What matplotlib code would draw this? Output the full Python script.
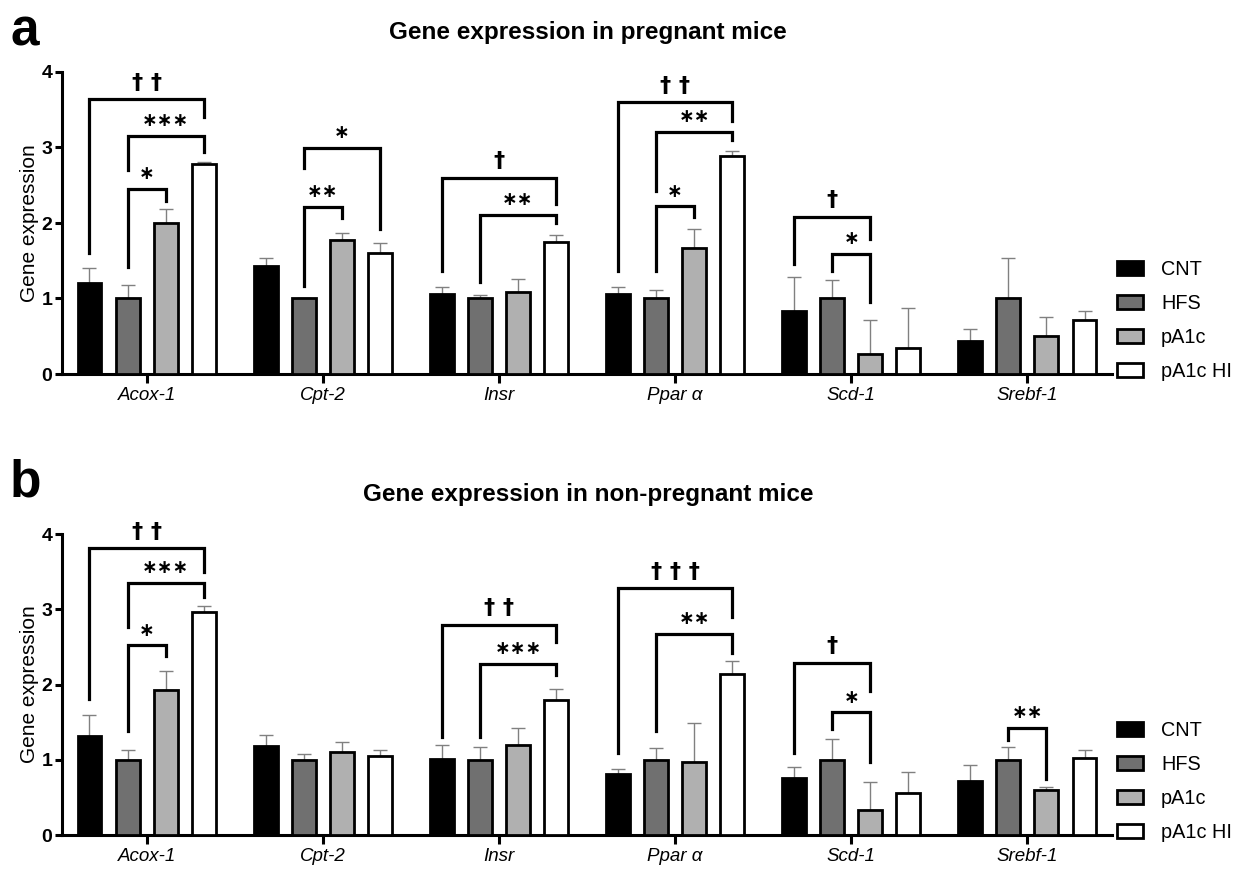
import numpy as np
import matplotlib
matplotlib.use("Agg")
from matplotlib import pyplot as plt
from matplotlib.patches import Patch

plt.rcParams['font.family'] = ['Liberation Sans', 'DejaVu Sans']

genes = ['Acox-1', 'Cpt-2', 'Insr', 'Ppar α', 'Scd-1', 'Srebf-1']
groups = ['CNT', 'HFS', 'pA1c', 'pA1c HI']
colors = ['#000000', '#707070', '#b0b0b0', '#ffffff']

# panel a: pregnant mice (mean, SEM)
preg_cnt = [1.20, 1.43, 1.06, 1.06, 0.84, 0.44]
preg_hfs = [1.00, 1.00, 1.00, 1.00, 1.00, 1.00]
preg_pa1c = [2.00, 1.77, 1.08, 1.67, 0.26, 0.50]
preg_hi = [2.78, 1.60, 1.75, 2.89, 0.35, 0.71]
preg_cnt_err = [0.21, 0.11, 0.09, 0.09, 0.44, 0.16]
preg_hfs_err = [0.18, 0.01, 0.04, 0.11, 0.25, 0.53]
preg_pa1c_err = [0.19, 0.10, 0.18, 0.25, 0.46, 0.25]
preg_hi_err = [0.03, 0.13, 0.09, 0.06, 0.53, 0.12]

# panel b: non-pregnant mice
nonp_cnt = [1.31, 1.18, 1.01, 0.81, 0.76, 0.72]
nonp_hfs = [1.00, 1.00, 1.00, 1.00, 1.00, 1.00]
nonp_pa1c = [1.93, 1.10, 1.19, 0.97, 0.33, 0.60]
nonp_hi = [2.96, 1.05, 1.80, 2.14, 0.56, 1.02]
nonp_cnt_err = [0.28, 0.15, 0.18, 0.07, 0.14, 0.21]
nonp_hfs_err = [0.13, 0.08, 0.17, 0.16, 0.28, 0.17]
nonp_pa1c_err = [0.25, 0.14, 0.23, 0.52, 0.37, 0.04]
nonp_hi_err = [0.08, 0.08, 0.14, 0.17, 0.28, 0.11]

# comparisons: gene, bar from, bar to, left leg end, right leg end, bracket height, label
preg_brackets = [
    (0, 0, 3, 1.60, 3.40, 3.64, '† †'),
    (0, 1, 3, 2.70, 2.94, 3.15, '∗∗∗'),
    (0, 1, 2, 1.42, 2.29, 2.45, '∗'),
    (1, 1, 3, 2.73, 1.92, 2.99, '∗'),
    (1, 1, 2, 1.17, 2.06, 2.21, '∗∗'),
    (2, 0, 3, 1.36, 2.25, 2.60, '†'),
    (2, 1, 3, 1.22, 2.00, 2.11, '∗∗'),
    (3, 0, 3, 1.36, 3.35, 3.60, '† †'),
    (3, 1, 3, 2.42, 3.10, 3.21, '∗∗'),
    (3, 1, 2, 1.36, 2.08, 2.22, '∗'),
    (4, 0, 2, 1.46, 1.79, 2.08, '†'),
    (4, 1, 2, 1.36, 0.95, 1.59, '∗'),
]
nonp_brackets = [
    (0, 0, 3, 1.81, 3.50, 3.81, '† †'),
    (0, 1, 3, 2.76, 3.16, 3.35, '∗∗∗'),
    (0, 1, 2, 1.38, 2.38, 2.52, '∗'),
    (2, 0, 3, 1.30, 2.56, 2.79, '† †'),
    (2, 1, 3, 1.30, 2.13, 2.27, '∗∗∗'),
    (3, 0, 3, 1.09, 2.90, 3.28, '† † †'),
    (3, 1, 3, 1.38, 2.42, 2.67, '∗∗'),
    (4, 0, 2, 1.09, 1.91, 2.29, '†'),
    (4, 1, 2, 1.41, 0.97, 1.63, '∗'),
    (5, 1, 2, 1.26, 0.74, 1.42, '∗∗'),
]

STEP = 0.216
WIDTH = 0.136


def bar_x(gene, k):
    return gene + (k - 1.5) * STEP


def draw_panel(ax, means, errs, brackets):
    x = np.arange(len(genes))
    for k in range(4):
        ax.bar(x + (k - 1.5) * STEP, means[k], WIDTH, color=colors[k],
               edgecolor='black', linewidth=2.0, zorder=3,
               yerr=[np.zeros(len(genes)), errs[k]],
               error_kw=dict(ecolor='#808080', elinewidth=1.0, capsize=5,
                             capthick=1.0, zorder=2))
    for g, i, j, yl, yr, yt, lab in brackets:
        x0, x1 = bar_x(g, i), bar_x(g, j)
        ax.plot([x0, x0, x1, x1], [yl, yt, yt, yr], color='black',
                lw=2.3, solid_joinstyle='miter', zorder=4)
        if '†' in lab:
            ax.annotate(lab, xy=((x0 + x1) / 2, yt), xytext=(0, 12),
                        textcoords='offset points', ha='center', va='center',
                        fontsize=16, fontweight='bold', family=['DejaVu Sans'])
        else:
            ax.annotate(lab, xy=((x0 + x1) / 2, yt), xytext=(0, 11),
                        textcoords='offset points', ha='center', va='center',
                        fontsize=13.5, fontweight='bold', family=['DejaVu Sans'])
    ax.set_xlim(-0.48, 5.48)
    ax.set_ylim(0, 4)
    ax.set_yticks([0, 1, 2, 3, 4])
    ax.set_xticks(x)
    ax.set_xticklabels(genes, fontstyle='italic', fontsize=13.5)
    for t in ax.get_yticklabels():
        t.set_fontweight('bold')
        t.set_fontsize(14)
    ax.set_ylabel('Gene expression', fontsize=15, labelpad=2)
    for s in ['top', 'right']:
        ax.spines[s].set_visible(False)
    for s in ['left', 'bottom']:
        ax.spines[s].set_linewidth(2.2)
    ax.tick_params(axis='y', width=2.2, length=5, pad=2)
    ax.tick_params(axis='x', width=2.2, length=6.5, pad=3)
    handles = [Patch(facecolor=c, edgecolor='black', linewidth=2.0) for c in colors]
    ax.legend(handles, groups, loc='lower left', bbox_to_anchor=(1.005, -0.022),
              frameon=False, fontsize=14.3, handlelength=1.3, handleheight=0.7,
              handletextpad=0.9, labelspacing=0.75, borderpad=0, borderaxespad=0)


fig = plt.figure(figsize=(12.42, 8.71), dpi=100)
ax_a = fig.add_axes([62 / 1242, 1 - 374 / 871, 1050 / 1242, 302 / 871])
ax_b = fig.add_axes([62 / 1242, 1 - 835 / 871, 1050 / 1242, 301 / 871])

draw_panel(ax_a, [preg_cnt, preg_hfs, preg_pa1c, preg_hi],
           [preg_cnt_err, preg_hfs_err, preg_pa1c_err, preg_hi_err], preg_brackets)
draw_panel(ax_b, [nonp_cnt, nonp_hfs, nonp_pa1c, nonp_hi],
           [nonp_cnt_err, nonp_hfs_err, nonp_pa1c_err, nonp_hi_err], nonp_brackets)

fig.text(588 / 1242, 1 - 32 / 871, 'Gene expression in pregnant mice',
         ha='center', va='center', fontsize=17.5, fontweight='bold')
fig.text(588 / 1242, 1 - 494 / 871, 'Gene expression in non-pregnant mice',
         ha='center', va='center', fontsize=17.5, fontweight='bold')
fig.text(10 / 1242, 1 - 46 / 871, 'a', ha='left', va='baseline', fontsize=37, fontweight='bold')
fig.text(10 / 1242, 1 - 496 / 871, 'b', ha='left', va='baseline', fontsize=37, fontweight='bold')

fig.savefig('out.png', dpi=100)
